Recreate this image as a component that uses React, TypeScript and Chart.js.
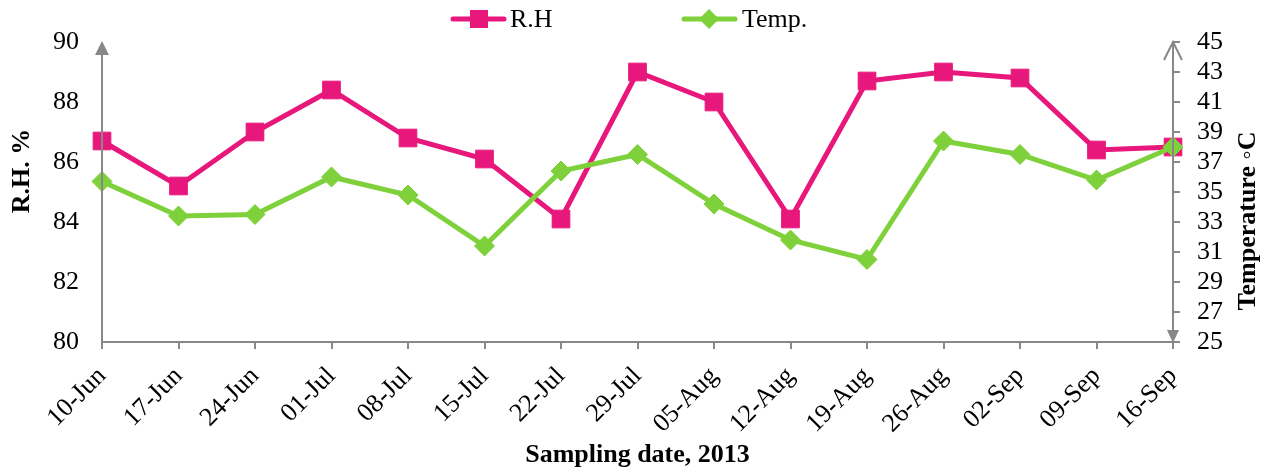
import React, { useEffect, useRef } from 'react';
import { Chart, registerables } from 'chart.js';

Chart.register(...registerables);

const categories = ['10-Jun', '17-Jun', '24-Jun', '01-Jul', '08-Jul', '15-Jul', '22-Jul', '29-Jul', '05-Aug', '12-Aug', '19-Aug', '26-Aug', '02-Sep', '09-Sep', '16-Sep'];
const rhValues = [86.7, 85.2, 87.0, 88.4, 86.8, 86.1, 84.1, 89.0, 88.0, 84.1, 88.7, 89.0, 88.8, 86.4, 86.5];
const tempValues = [35.7, 33.4, 33.5, 36.0, 34.8, 31.4, 36.4, 37.5, 34.2, 31.8, 30.5, 38.4, 37.5, 35.8, 38.0];
const rhAxis = { min: 80, max: 90, step: 2 };
const tempAxis = { min: 25, max: 45, step: 2 };
const seriesNames = ['R.H', 'Temp.'];
const xTitle = 'Sampling date, 2013';
const leftTitle = 'R.H. %';
const rightTitle = 'Temperature \u25E6C';

const PINK = '#E8177B';
const GREEN = '#7ED13A';
const GRAY = '#888888';
const FONT = "'Liberation Serif', 'Times New Roman', serif";

const decorPlugin = {
  id: 'decor',
  afterDraw(chart: any) {
    const ctx = chart.ctx as CanvasRenderingContext2D;
    const { left, right, top, bottom } = chart.chartArea;
    ctx.save();
    ctx.strokeStyle = GRAY;
    ctx.fillStyle = GRAY;
    ctx.lineWidth = 2;
    // x axis line + ticks
    ctx.beginPath();
    ctx.moveTo(left, bottom);
    ctx.lineTo(right, bottom);
    const xs = chart.scales.x;
    xs.ticks.forEach((_t: any, i: number) => {
      const px = Math.round(xs.getPixelForTick(i));
      ctx.moveTo(px, bottom);
      ctx.lineTo(px, bottom + 7);
    });
    // right axis ticks
    const ys2 = chart.scales.y2;
    ys2.ticks.forEach((t: any) => {
      const py = Math.round(ys2.getPixelForValue(t.value));
      ctx.moveTo(right, py);
      ctx.lineTo(right + 7, py);
    });
    ctx.stroke();
    // left axis with filled arrow
    ctx.beginPath();
    ctx.moveTo(left, bottom);
    ctx.lineTo(left, top + 10);
    ctx.stroke();
    ctx.beginPath();
    ctx.moveTo(left, top - 1);
    ctx.lineTo(left - 7, top + 13);
    ctx.lineTo(left + 7, top + 13);
    ctx.closePath();
    ctx.fill();
    // right axis: open arrow top, filled bottom
    ctx.beginPath();
    ctx.moveTo(right, bottom - 10);
    ctx.lineTo(right, top);
    ctx.stroke();
    ctx.beginPath();
    ctx.moveTo(right - 9, top + 18);
    ctx.lineTo(right, top);
    ctx.lineTo(right + 9, top + 18);
    ctx.stroke();
    ctx.beginPath();
    ctx.moveTo(right, bottom + 1);
    ctx.lineTo(right - 6, bottom - 12);
    ctx.lineTo(right + 6, bottom - 12);
    ctx.closePath();
    ctx.fill();

    // titles
    ctx.fillStyle = '#000';
    ctx.font = `bold 26px ${FONT}`;
    ctx.textAlign = 'center';
    ctx.textBaseline = 'middle';
    ctx.fillText(xTitle, (left + right) / 2, 455);
    ctx.save();
    ctx.translate(22, 171);
    ctx.rotate(-Math.PI / 2);
    ctx.fillText(leftTitle, 0, 0);
    ctx.restore();
    ctx.save();
    ctx.translate(1248, 221);
    ctx.rotate(-Math.PI / 2);
    ctx.fillText(rightTitle, 0, 0);
    ctx.restore();

    // legend
    const ly = 19;
    ctx.lineCap = 'round';
    ctx.lineWidth = 5;
    ctx.strokeStyle = PINK;
    ctx.beginPath();
    ctx.moveTo(453, ly);
    ctx.lineTo(504, ly);
    ctx.stroke();
    ctx.fillStyle = PINK;
    ctx.fillRect(479 - 9, ly - 9, 18, 18);
    ctx.strokeStyle = GREEN;
    ctx.beginPath();
    ctx.moveTo(684, ly);
    ctx.lineTo(735, ly);
    ctx.stroke();
    ctx.fillStyle = GREEN;
    ctx.beginPath();
    ctx.moveTo(709, ly - 10);
    ctx.lineTo(719, ly);
    ctx.lineTo(709, ly + 10);
    ctx.lineTo(699, ly);
    ctx.closePath();
    ctx.fill();
    ctx.fillStyle = '#000';
    ctx.font = `26px ${FONT}`;
    ctx.textAlign = 'left';
    ctx.fillText(seriesNames[0], 510, ly + 1);
    ctx.fillText(seriesNames[1], 742, ly + 1);
    ctx.restore();
  },
};

export default function App() {
  const canvasRef = useRef<HTMLCanvasElement | null>(null);

  useEffect(() => {
    document.body.style.margin = '0';
    const canvas = canvasRef.current;
    if (!canvas) return;
    const chart = new Chart(canvas, {
      type: 'line',
      data: {
        labels: categories,
        datasets: [
          {
            label: seriesNames[1],
            data: tempValues,
            yAxisID: 'y2',
            borderColor: GREEN,
            backgroundColor: GREEN,
            borderWidth: 5,
            pointStyle: 'rectRot',
            pointRadius: 10,
            pointBorderWidth: 1,
            pointBorderColor: GREEN,
            pointBackgroundColor: GREEN,
            tension: 0,
            order: 0,
          },
          {
            label: seriesNames[0],
            data: rhValues,
            yAxisID: 'y',
            borderColor: PINK,
            backgroundColor: PINK,
            borderWidth: 5,
            pointStyle: 'rect',
            pointRadius: 12.5,
            pointBorderWidth: 1,
            pointBorderColor: PINK,
            pointBackgroundColor: PINK,
            tension: 0,
            order: 1,
          },
        ],
      },
      options: {
        responsive: false,
        animation: false,
        devicePixelRatio: 1,
        layout: { padding: { top: 42, left: 0, right: 0, bottom: 0 } },
        plugins: { legend: { display: false }, tooltip: { enabled: false }, title: { display: false } },
        scales: {
          x: {
            offset: false,
            grid: { display: false, drawTicks: true, tickLength: 7 },
            border: { display: false },
            ticks: {
              autoSkip: false,
              maxRotation: 45,
              minRotation: 45,
              padding: 12,
              color: '#000',
              font: { family: FONT, size: 26 },
            },
            afterFit(scale: any) {
              scale.height = 474 - 342;
            },
          },
          y: {
            position: 'left',
            min: rhAxis.min,
            max: rhAxis.max,
            grid: { display: false, drawTicks: false },
            border: { display: false },
            ticks: {
              autoSkip: false,
              stepSize: rhAxis.step,
              padding: 23,
              color: '#000',
              font: { family: FONT, size: 26 },
            },
            afterFit(scale: any) {
              scale.width = 102;
            },
          },
          y2: {
            position: 'right',
            min: tempAxis.min,
            max: tempAxis.max,
            grid: { display: false, drawTicks: true, tickLength: 7 },
            border: { display: false },
            ticks: {
              autoSkip: false,
              stepSize: tempAxis.step,
              padding: 17,
              color: '#000',
              font: { family: FONT, size: 26 },
            },
            afterFit(scale: any) {
              scale.width = 1271 - 1173;
            },
          },
        },
      },
      plugins: [decorPlugin],
    });
    return () => chart.destroy();
  }, []);

  return (
    <div style={{ width: 1271, height: 474 }}>
      <canvas ref={canvasRef} width={1271} height={474} style={{ display: 'block' }} />
    </div>
  );
}
